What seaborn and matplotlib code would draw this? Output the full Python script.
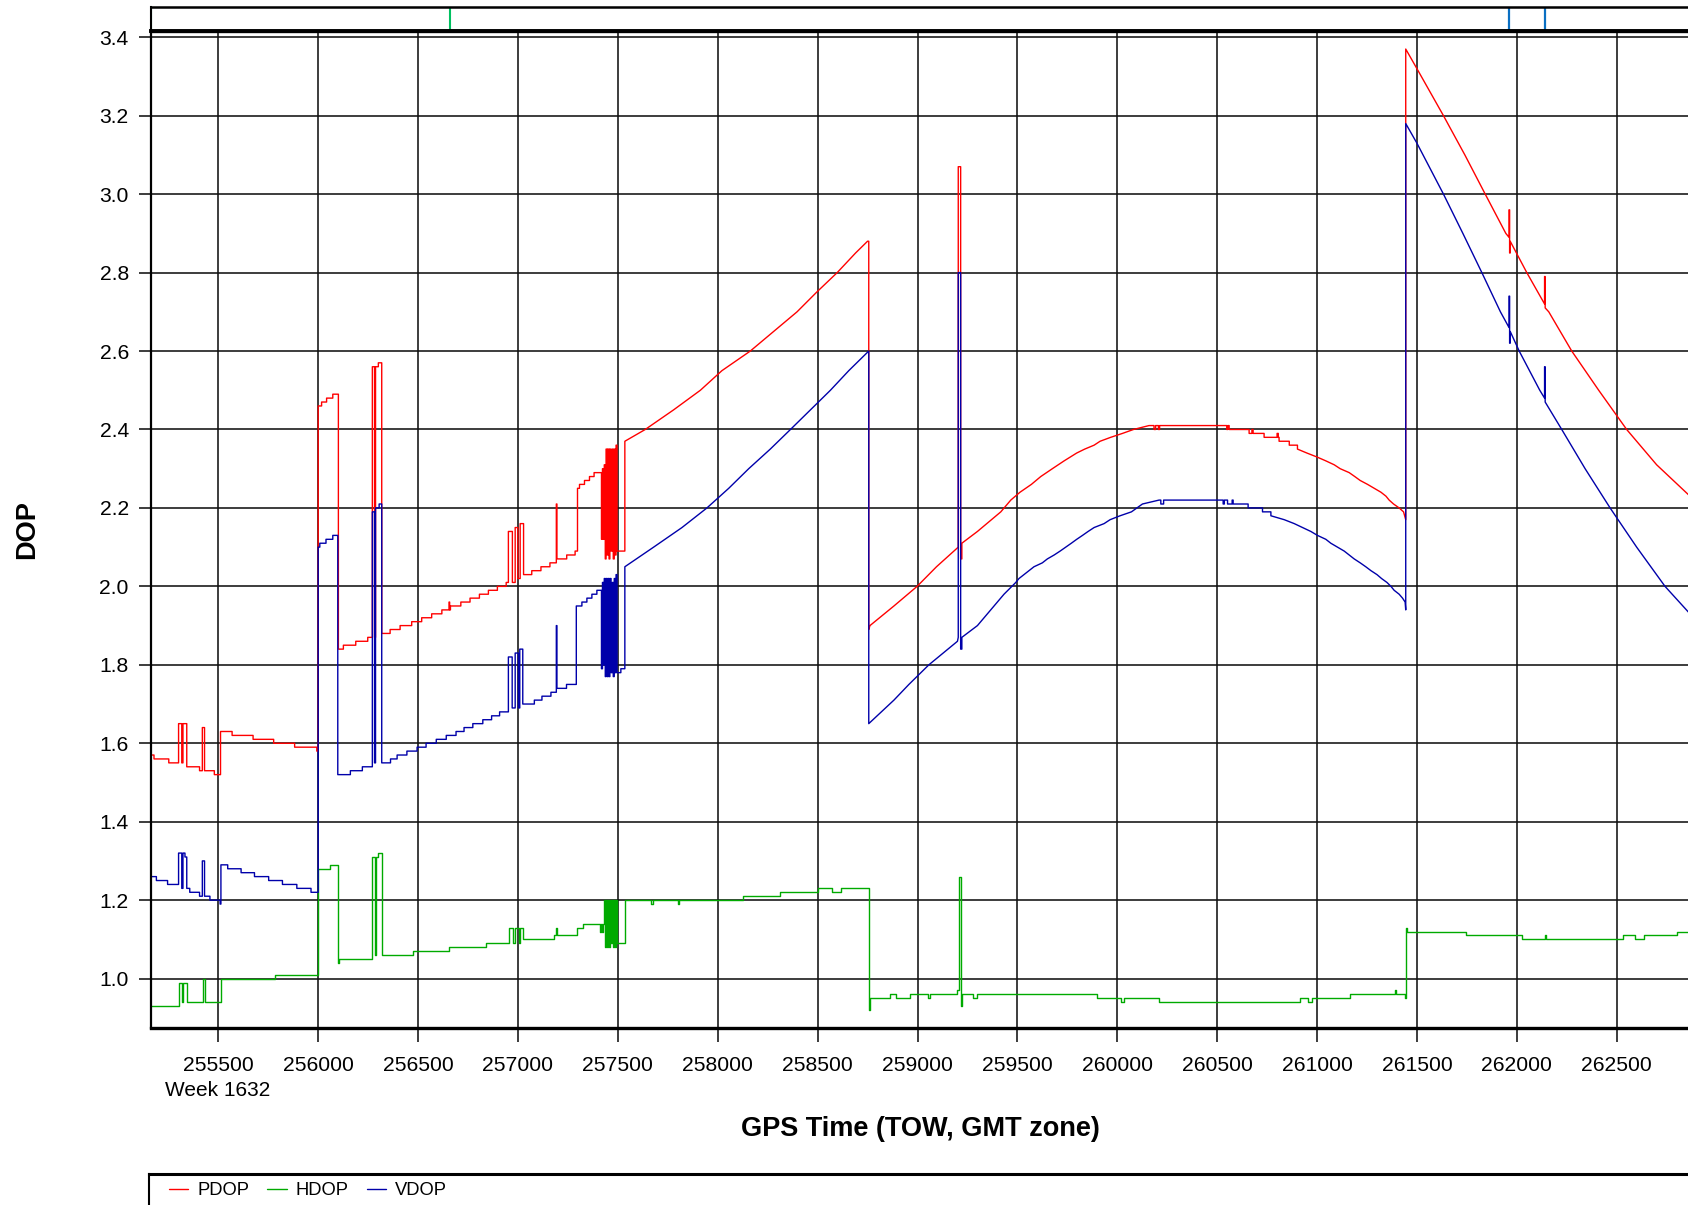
import matplotlib
matplotlib.use("Agg")
import matplotlib.pyplot as plt
import pandas as pd
import seaborn as sns

# ---- data (time of week, DOP) ----
series_names = ["PDOP", "HDOP", "VDOP"]
series_colors = ["#ff0000", "#00aa00", "#0000aa"]

pdop = [
    (255163, 1.56), (255163, 1.57), (255178, 1.57), (255178, 1.56), (255252, 1.56), (255252, 1.55),
    (255301, 1.55), (255301, 1.65), (255317, 1.65), (255317, 1.55), (255323, 1.55), (255323, 1.65),
    (255342, 1.65), (255342, 1.54), (255406, 1.54), (255406, 1.53), (255420, 1.53), (255420, 1.64),
    (255431, 1.64), (255431, 1.53), (255480, 1.53), (255480, 1.52), (255511, 1.52), (255511, 1.63),
    (255569, 1.63), (255569, 1.62), (255674, 1.62), (255674, 1.61), (255777, 1.61), (255777, 1.60),
    (255882, 1.60), (255882, 1.59), (255993, 1.59), (255993, 1.58), (256000, 1.58), (256000, 2.46),
    (256017, 2.46), (256017, 2.47), (256042, 2.47), (256042, 2.48), (256073, 2.48), (256073, 2.49),
    (256101, 2.49), (256101, 1.84), (256126, 1.84), (256126, 1.85), (256188, 1.85), (256188, 1.86),
    (256248, 1.86), (256248, 1.87), (256271, 1.87), (256271, 2.56), (256282, 2.56), (256282, 1.87),
    (256287, 1.87), (256287, 2.56), (256301, 2.56), (256301, 2.57), (256318, 2.57), (256318, 1.88),
    (256360, 1.88), (256360, 1.89), (256410, 1.89), (256410, 1.90), (256468, 1.90), (256468, 1.91),
    (256518, 1.91), (256518, 1.92), (256568, 1.92), (256568, 1.93), (256619, 1.93), (256619, 1.94),
    (256655, 1.94), (256655, 1.96), (256658, 1.96), (256658, 1.94), (256662, 1.94), (256662, 1.95),
    (256714, 1.95), (256714, 1.96), (256760, 1.96), (256760, 1.97), (256807, 1.97), (256807, 1.98),
    (256852, 1.98), (256852, 1.99), (256897, 1.99), (256897, 2.00), (256941, 2.00), (256941, 2.01),
    (256952, 2.01), (256952, 2.14), (256972, 2.14), (256972, 2.01), (256986, 2.01), (256986, 2.15),
    (256999, 2.15), (256999, 2.02), (257011, 2.02), (257011, 2.16), (257028, 2.16), (257028, 2.03),
    (257069, 2.03), (257069, 2.04), (257115, 2.04), (257115, 2.05), (257160, 2.05), (257160, 2.06),
    (257192, 2.06), (257192, 2.21), (257195, 2.21), (257195, 2.07), (257244, 2.07), (257244, 2.08),
    (257286, 2.08), (257286, 2.09), (257298, 2.09), (257298, 2.25), (257308, 2.25), (257308, 2.26),
    (257333, 2.26), (257333, 2.27), (257358, 2.27), (257358, 2.28), (257381, 2.28), (257381, 2.29),
    (257418, 2.29), (257418, 2.12), (257423, 2.12), (257423, 2.30), (257428, 2.30), (257428, 2.12),
    (257432, 2.12), (257432, 2.31), (257437, 2.31), (257437, 2.07), (257441, 2.07), (257441, 2.35),
    (257447, 2.35), (257447, 2.08), (257451, 2.08), (257451, 2.35), (257456, 2.35), (257456, 2.07),
    (257460, 2.07), (257460, 2.35), (257466, 2.35), (257466, 2.09), (257472, 2.09), (257472, 2.35),
    (257477, 2.35), (257477, 2.07), (257482, 2.07), (257482, 2.35), (257487, 2.35), (257487, 2.08),
    (257491, 2.08), (257491, 2.36), (257496, 2.36), (257496, 2.09), (257535, 2.09), (257535, 2.37),
    (257637, 2.40), (257779, 2.45), (257913, 2.50), (258021, 2.55), (258163, 2.60), (258280, 2.65),
    (258397, 2.70), (258495, 2.75), (258598, 2.80), (258690, 2.85), (258750, 2.88), (258756, 2.88),
    (258756, 1.89), (258762, 1.90), (258882, 1.95), (258998, 2.00), (259095, 2.05), (259204, 2.10),
    (259204, 3.07), (259216, 3.07), (259216, 2.07), (259222, 2.07), (259222, 2.11), (259300, 2.14),
    (259417, 2.19), (259467, 2.22), (259513, 2.24), (259570, 2.26), (259617, 2.28), (259675, 2.30),
    (259734, 2.32), (259797, 2.34), (259837, 2.35), (259884, 2.36), (259914, 2.37), (259967, 2.38),
    (260026, 2.39), (260081, 2.40), (260159, 2.41), (260184, 2.41), (260184, 2.40), (260192, 2.40),
    (260192, 2.41), (260206, 2.41), (260206, 2.40), (260212, 2.40), (260212, 2.41), (260548, 2.41),
    (260548, 2.40), (260553, 2.40), (260553, 2.41), (260560, 2.41), (260560, 2.40), (260660, 2.40),
    (260660, 2.39), (260674, 2.39), (260674, 2.40), (260680, 2.40), (260680, 2.39), (260735, 2.39),
    (260735, 2.38), (260800, 2.38), (260800, 2.39), (260806, 2.39), (260806, 2.38), (260810, 2.38),
    (260810, 2.37), (260861, 2.37), (260861, 2.36), (260902, 2.36), (260902, 2.35), (260949, 2.34),
    (260999, 2.33), (261044, 2.32), (261086, 2.31), (261116, 2.30), (261161, 2.29), (261189, 2.28),
    (261216, 2.27), (261253, 2.26), (261286, 2.25), (261320, 2.24), (261345, 2.23), (261361, 2.22),
    (261383, 2.21), (261411, 2.20), (261433, 2.19), (261444, 2.17), (261444, 3.37), (261500, 3.32),
    (261633, 3.20), (261740, 3.10), (261842, 3.00), (261945, 2.90), (261961, 2.89), (261961, 2.96),
    (261964, 2.96), (261964, 2.85), (261967, 2.85), (261967, 2.88), (262050, 2.80), (262139, 2.72),
    (262139, 2.79), (262142, 2.79), (262142, 2.71), (262160, 2.70), (262275, 2.60), (262410, 2.50),
    (262550, 2.40), (262700, 2.31), (262867, 2.23),
]

hdop = [
    (255163, 0.93), (255301, 0.93), (255301, 0.99), (255317, 0.99), (255317, 0.94), (255323, 0.94),
    (255323, 0.99), (255342, 0.99), (255342, 0.94), (255424, 0.94), (255424, 1.00), (255435, 1.00),
    (255435, 0.94), (255511, 0.94), (255511, 1.00), (255786, 1.00), (255786, 1.01), (256000, 1.01),
    (256000, 1.28), (256060, 1.28), (256060, 1.29), (256098, 1.29), (256098, 1.04), (256105, 1.04),
    (256105, 1.05), (256271, 1.05), (256271, 1.31), (256282, 1.31), (256282, 1.06), (256287, 1.06),
    (256287, 1.31), (256301, 1.31), (256301, 1.32), (256318, 1.32), (256318, 1.06), (256473, 1.06),
    (256473, 1.07), (256656, 1.07), (256656, 1.08), (256841, 1.08), (256841, 1.09), (256953, 1.09),
    (256953, 1.13), (256975, 1.13), (256975, 1.09), (256986, 1.09), (256986, 1.13), (257004, 1.13),
    (257004, 1.09), (257011, 1.09), (257011, 1.13), (257024, 1.13), (257024, 1.10), (257178, 1.10),
    (257178, 1.11), (257190, 1.11), (257190, 1.13), (257193, 1.13), (257193, 1.11), (257295, 1.11),
    (257295, 1.13), (257328, 1.13), (257328, 1.14), (257411, 1.14), (257411, 1.12), (257418, 1.12),
    (257418, 1.14), (257423, 1.14), (257423, 1.12), (257428, 1.12), (257428, 1.14), (257432, 1.14),
    (257432, 1.20), (257437, 1.20), (257437, 1.08), (257441, 1.08), (257441, 1.20), (257447, 1.20),
    (257447, 1.08), (257451, 1.08), (257451, 1.20), (257456, 1.20), (257456, 1.08), (257460, 1.08),
    (257460, 1.20), (257466, 1.20), (257466, 1.09), (257472, 1.09), (257472, 1.20), (257477, 1.20),
    (257477, 1.08), (257482, 1.08), (257482, 1.20), (257487, 1.20), (257487, 1.08), (257491, 1.08),
    (257491, 1.20), (257496, 1.20), (257496, 1.09), (257535, 1.09), (257535, 1.20), (257668, 1.20),
    (257668, 1.19), (257675, 1.19), (257675, 1.20), (257802, 1.20), (257802, 1.19), (257808, 1.19),
    (257808, 1.20), (258126, 1.20), (258126, 1.21), (258310, 1.21), (258310, 1.22), (258502, 1.22),
    (258502, 1.23), (258572, 1.23), (258572, 1.22), (258618, 1.22), (258618, 1.23), (258756, 1.23),
    (258756, 0.92), (258760, 0.92), (258760, 0.95), (258861, 0.95), (258861, 0.96), (258890, 0.96),
    (258890, 0.95), (258962, 0.95), (258962, 0.96), (259052, 0.96), (259052, 0.95), (259065, 0.95),
    (259065, 0.96), (259199, 0.96), (259199, 0.97), (259207, 0.97), (259207, 1.26), (259219, 1.26),
    (259219, 0.93), (259222, 0.93), (259222, 0.96), (259279, 0.96), (259279, 0.95), (259296, 0.95),
    (259296, 0.96), (259900, 0.96), (259900, 0.95), (260020, 0.95), (260020, 0.94), (260035, 0.94),
    (260035, 0.95), (260210, 0.95), (260210, 0.94), (260914, 0.94), (260914, 0.95), (260956, 0.95),
    (260956, 0.94), (260976, 0.94), (260976, 0.95), (261164, 0.95), (261164, 0.96), (261390, 0.96),
    (261390, 0.97), (261394, 0.97), (261394, 0.96), (261440, 0.96), (261440, 0.95), (261444, 0.95),
    (261444, 1.13), (261450, 1.13), (261450, 1.12), (261748, 1.12), (261748, 1.11), (262024, 1.11),
    (262024, 1.10), (262141, 1.10), (262141, 1.11), (262144, 1.11), (262144, 1.10), (262533, 1.10),
    (262533, 1.11), (262591, 1.11), (262591, 1.10), (262638, 1.10), (262638, 1.11), (262803, 1.11),
    (262803, 1.12), (262867, 1.12),
]

vdop = [
    (255163, 1.25), (255163, 1.26), (255190, 1.26), (255190, 1.25), (255246, 1.25), (255246, 1.24),
    (255301, 1.24), (255301, 1.32), (255317, 1.32), (255317, 1.23), (255323, 1.23), (255323, 1.32),
    (255333, 1.32), (255333, 1.31), (255342, 1.31), (255342, 1.23), (255357, 1.23), (255357, 1.22),
    (255406, 1.22), (255406, 1.21), (255420, 1.21), (255420, 1.30), (255431, 1.30), (255431, 1.21),
    (255458, 1.21), (255458, 1.20), (255509, 1.20), (255509, 1.19), (255513, 1.19), (255513, 1.29),
    (255547, 1.29), (255547, 1.28), (255614, 1.28), (255614, 1.27), (255681, 1.27), (255681, 1.26),
    (255752, 1.26), (255752, 1.25), (255821, 1.25), (255821, 1.24), (255893, 1.24), (255893, 1.23),
    (255964, 1.23), (255964, 1.22), (256000, 1.22), (256000, 2.10), (256008, 2.10), (256008, 2.11),
    (256039, 2.11), (256039, 2.12), (256073, 2.12), (256073, 2.13), (256098, 2.13), (256098, 1.52),
    (256161, 1.52), (256161, 1.53), (256221, 1.53), (256221, 1.54), (256271, 1.54), (256271, 2.19),
    (256282, 2.19), (256282, 1.55), (256287, 1.55), (256287, 2.20), (256305, 2.20), (256305, 2.21),
    (256318, 2.21), (256318, 1.55), (256362, 1.55), (256362, 1.56), (256395, 1.56), (256395, 1.57),
    (256444, 1.57), (256444, 1.58), (256495, 1.58), (256495, 1.59), (256540, 1.59), (256540, 1.60),
    (256591, 1.60), (256591, 1.61), (256641, 1.61), (256641, 1.62), (256690, 1.62), (256690, 1.63),
    (256730, 1.63), (256730, 1.64), (256774, 1.64), (256774, 1.65), (256824, 1.65), (256824, 1.66),
    (256868, 1.66), (256868, 1.67), (256908, 1.67), (256908, 1.68), (256952, 1.68), (256952, 1.82),
    (256971, 1.82), (256971, 1.69), (256986, 1.69), (256986, 1.83), (257002, 1.83), (257002, 1.69),
    (257009, 1.69), (257009, 1.84), (257024, 1.84), (257024, 1.70), (257082, 1.70), (257082, 1.71),
    (257120, 1.71), (257120, 1.72), (257165, 1.72), (257165, 1.73), (257192, 1.73), (257192, 1.90),
    (257195, 1.90), (257195, 1.74), (257243, 1.74), (257243, 1.75), (257292, 1.75), (257292, 1.95),
    (257320, 1.95), (257320, 1.96), (257345, 1.96), (257345, 1.97), (257370, 1.97), (257370, 1.98),
    (257395, 1.98), (257395, 1.99), (257418, 1.99), (257418, 1.79), (257423, 1.79), (257423, 2.01),
    (257428, 2.01), (257428, 1.80), (257432, 1.80), (257432, 2.02), (257437, 2.02), (257437, 1.77),
    (257441, 1.77), (257441, 2.02), (257447, 2.02), (257447, 1.77), (257451, 1.77), (257451, 2.02),
    (257456, 2.02), (257456, 1.77), (257460, 1.77), (257460, 2.02), (257466, 2.02), (257466, 1.78),
    (257472, 1.78), (257472, 2.01), (257477, 2.01), (257477, 1.77), (257482, 1.77), (257482, 2.02),
    (257487, 2.02), (257487, 1.78), (257491, 1.78), (257491, 2.03), (257496, 2.03), (257496, 1.78),
    (257515, 1.78), (257515, 1.79), (257535, 1.79), (257535, 2.05), (257679, 2.10), (257821, 2.15),
    (257946, 2.20), (258055, 2.25), (258155, 2.30), (258263, 2.35), (258364, 2.40), (258464, 2.45),
    (258564, 2.50), (258656, 2.55), (258756, 2.60), (258756, 1.65), (258882, 1.71), (258957, 1.75),
    (259057, 1.80), (259200, 1.86), (259204, 1.87), (259204, 2.80), (259216, 2.80), (259216, 1.84),
    (259222, 1.84), (259222, 1.87), (259300, 1.90), (259417, 1.97), (259433, 1.98), (259492, 2.01),
    (259508, 2.02), (259533, 2.03), (259558, 2.04), (259583, 2.05), (259625, 2.06), (259650, 2.07),
    (259684, 2.08), (259714, 2.09), (259742, 2.10), (259770, 2.11), (259797, 2.12), (259826, 2.13),
    (259854, 2.14), (259884, 2.15), (259934, 2.16), (259964, 2.17), (260014, 2.18), (260071, 2.19),
    (260126, 2.21), (260209, 2.22), (260218, 2.22), (260218, 2.21), (260232, 2.21), (260232, 2.22),
    (260530, 2.22), (260530, 2.21), (260536, 2.21), (260536, 2.22), (260552, 2.22), (260552, 2.21),
    (260575, 2.21), (260575, 2.22), (260580, 2.22), (260580, 2.21), (260655, 2.21), (260655, 2.20),
    (260727, 2.20), (260727, 2.19), (260769, 2.19), (260769, 2.18), (260836, 2.17), (260886, 2.16),
    (260927, 2.15), (260969, 2.14), (261002, 2.13), (261044, 2.12), (261069, 2.11), (261103, 2.10),
    (261136, 2.09), (261161, 2.08), (261186, 2.07), (261216, 2.06), (261244, 2.05), (261270, 2.04),
    (261300, 2.03), (261323, 2.02), (261350, 2.01), (261370, 2.00), (261386, 1.99), (261411, 1.98),
    (261428, 1.97), (261441, 1.96), (261444, 1.94), (261444, 3.18), (261500, 3.13), (261633, 3.00),
    (261730, 2.90), (261825, 2.80), (261918, 2.70), (261961, 2.66), (261961, 2.74), (261964, 2.74),
    (261964, 2.62), (261967, 2.62), (261967, 2.65), (262012, 2.60), (262115, 2.50), (262139, 2.48),
    (262139, 2.56), (262142, 2.56), (262142, 2.47), (262225, 2.40), (262342, 2.30), (262467, 2.20),
    (262600, 2.10), (262742, 2.00), (262867, 1.93),
]

# event markers in the strip above the plot
events_green = [255163, 256658]
events_blue = [261961, 262141]

x_ticks = [255500, 256000, 256500, 257000, 257500, 258000, 258500,
           259000, 259500, 260000, 260500, 261000, 261500, 262000, 262500]
y_ticks = [1.0, 1.2, 1.4, 1.6, 1.8, 2.0, 2.2, 2.4, 2.6, 2.8, 3.0, 3.2, 3.4]
x_range = (255163, 262867)
y_range = (0.874, 3.416)

sns.set_theme(style="white")
plt.rcParams["font.family"] = ["Liberation Sans", "DejaVu Sans"]
plt.rcParams["text.color"] = "black"

W, H = 1688, 1205
fig = plt.figure(figsize=(W / 100, H / 100), dpi=100)
fig.patch.set_facecolor("white")

ax = fig.add_axes([151 / W, 1 - 1028 / H, 1539 / W, 997 / H])

for name, pts, col in zip(series_names, [pdop, hdop, vdop], series_colors):
    df = pd.DataFrame(pts, columns=["tow", "dop"])
    sns.lineplot(data=df, x="tow", y="dop", sort=False, estimator=None,
                 color=col, linewidth=1.0, ax=ax)

ax.set_xlim(x_range)
ax.set_ylim(y_range)
ax.set_xticks(x_ticks)
ax.set_xticklabels([str(t) for t in x_ticks])
ax.set_yticks(y_ticks)
ax.set_yticklabels([f"{v:.1f}" for v in y_ticks])
ax.set_xlabel("")
ax.set_ylabel("")
ax.grid(True, color="#111111", linewidth=1.15)
ax.set_axisbelow(True)
ax.tick_params(axis="x", bottom=True, direction="out", length=10, width=1.15,
               color="#111111", pad=10, labelsize=15.2, labelcolor="black")
ax.tick_params(axis="y", left=True, direction="out", length=9, width=1.15,
               color="#111111", pad=7, labelsize=15.2, labelcolor="black")
for side, lw in [("left", 1.6), ("bottom", 2.4), ("top", 2.4)]:
    ax.spines[side].set_color("black")
    ax.spines[side].set_linewidth(lw)
ax.spines["right"].set_visible(False)

# strip with event markers
ax_top = fig.add_axes([151 / W, 1 - 31 / H, 1539 / W, 24.5 / H])
ax_top.set_xlim(x_range)
ax_top.set_ylim(0, 1)
ax_top.vlines(events_green, 0, 1, color="#00c060", linewidth=1.5)
ax_top.vlines(events_blue, 0, 1, color="#0a6fc2", linewidth=1.6)
ax_top.set_xticks([])
ax_top.set_yticks([])
ax_top.patch.set_alpha(0)
for side, lw in [("left", 1.5), ("bottom", 2.8), ("top", 1.8)]:
    ax_top.spines[side].set_color("black")
    ax_top.spines[side].set_linewidth(lw)
ax_top.spines["right"].set_visible(False)

# legend box along the bottom edge
ax_leg = fig.add_axes([148.6 / W, -0.05, 1.0, 0.05 + 31.5 / H])
ax_leg.set_xticks([])
ax_leg.set_yticks([])
for side in ["right", "bottom"]:
    ax_leg.spines[side].set_visible(False)
ax_leg.spines["top"].set_color("black")
ax_leg.spines["top"].set_linewidth(2.2)
ax_leg.spines["left"].set_color("black")
ax_leg.spines["left"].set_linewidth(1.5)

handles = ax.get_lines()[:3]
fig.legend(handles, series_names, loc="center left",
           bbox_to_anchor=(169 / W, 1 - 1190.6 / H), ncol=3, frameon=False,
           fontsize=13.2, handlelength=1.05, handletextpad=0.48,
           columnspacing=1.0, borderpad=0, borderaxespad=0)

fig.text(165 / W, 1 - 1090 / H, "Week 1632", ha="left", va="center", fontsize=15)
fig.text(920 / W, 1 - 1129 / H, "GPS Time (TOW, GMT zone)", ha="center", va="center",
         fontsize=19.5, fontweight="bold")
fig.text(27 / W, 1 - 530 / H, "DOP", ha="center", va="center", rotation=90,
         fontsize=19.5, fontweight="bold")

fig.savefig("out.png", dpi=100, facecolor="white")
